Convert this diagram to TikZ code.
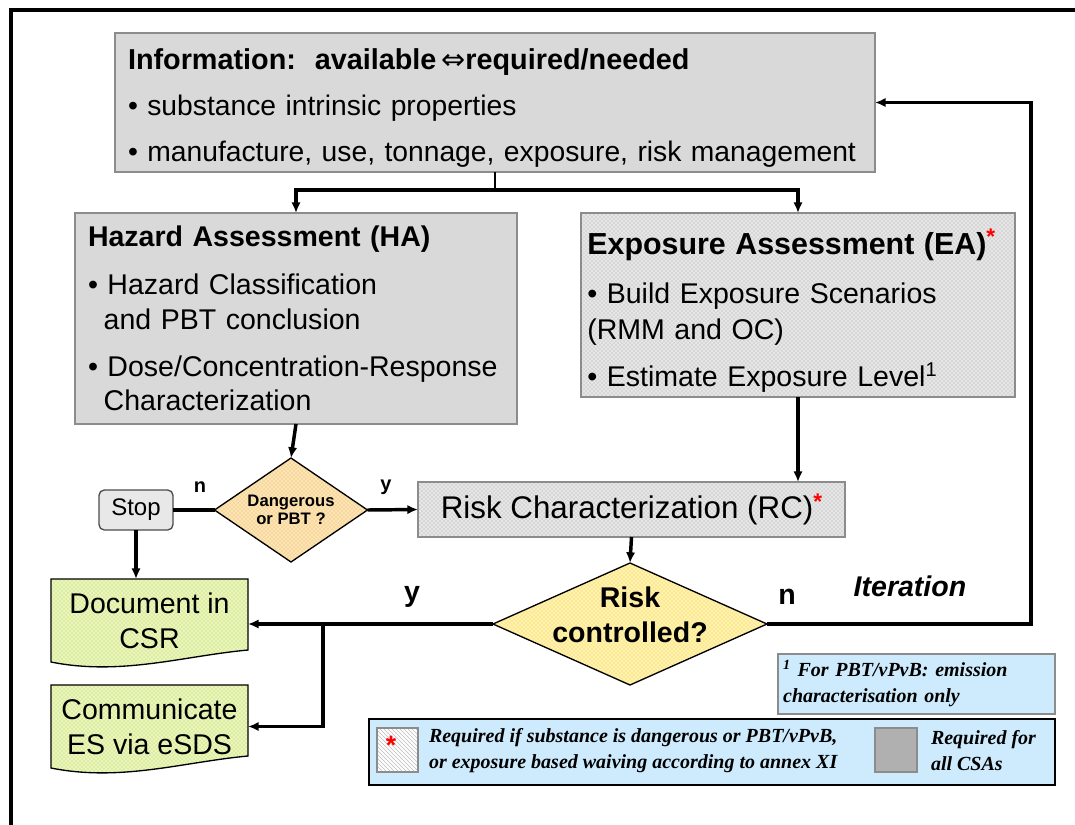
\documentclass[tikz,border=0pt]{standalone}
\usepackage{fontspec}
\setmainfont{Liberation Sans}
\newfontfamily\tms{Liberation Serif}
\newfontfamily\djv{DejaVu Sans}
\usetikzlibrary{shapes.geometric,arrows.meta,patterns,backgrounds}
\definecolor{boxgray}{HTML}{D9D9D9}
\definecolor{edgegray}{HTML}{8C8C8C}
\definecolor{dotbase}{HTML}{E6E6E6}
\definecolor{dotgray}{HTML}{A8A8A8}
\definecolor{orbase}{HTML}{FCE4B4}
\definecolor{ordot}{HTML}{E9B45C}
\definecolor{yelbase}{HTML}{FFF2B0}
\definecolor{yeldot}{HTML}{F2CC3A}
\definecolor{grbase}{HTML}{EAF6BE}
\definecolor{grdot}{HTML}{A6D23E}
\definecolor{lblue}{HTML}{CDEBFC}
\definecolor{stopgray}{HTML}{E8E8E8}
\definecolor{leggray}{HTML}{B0B0B0}
\definecolor{hatchc}{HTML}{BEBEBE}
\newcommand\redstar{\textcolor{red}{\raisebox{0.3em}{\bfseries\fontsize{17}{17}\selectfont *}}}
\newcommand\mydoc[1]{%
  \path[docshape] (#1.north west) -- (#1.north east) -- ([shift={(0,-12)}]#1.south east)
   .. controls ([shift={(-65,-6)}]#1.south east) and ([shift={(70,14)}]#1.south west) .. (#1.south west) -- cycle;}
\begin{document}
\begin{tikzpicture}[x=0.75pt,y=-0.75pt,
  every node/.style={inner sep=0pt, outer sep=0pt},
  bigtxt/.style={font=\fontsize{21.4}{26}\selectfont},
  graybox/.style={rectangle, draw=edgegray, line width=1.3pt, fill=boxgray, align=left, inner xsep=9.75pt, bigtxt},
  dotbox/.style={rectangle, draw=edgegray, line width=1.3pt, preaction={fill=dotbase}, pattern=crosshatch dots, pattern color=dotgray, bigtxt},
  docnode/.style={rectangle, minimum width=147.75pt, minimum height=62.25pt, align=center, bigtxt},
  docshape/.style={draw=black, line width=1pt, preaction={fill=grbase}, pattern=crosshatch dots, pattern color=grdot},
  ln/.style={line width=2.6pt},
  arr/.style={line width=2.6pt, -{Latex[length=8pt,width=7pt]}},
  smalllbl/.style={font=\fontsize{15}{15}\selectfont\bfseries},
  legtxt/.style={font=\tms\bfseries\itshape\fontsize{15}{19.5}\selectfont, align=left},
  bluebox/.style={rectangle, fill=lblue}
]
\useasboundingbox (0,0) rectangle (1075,825);
\draw[line width=2.4pt] (11,10) rectangle (1120,870);

% main boxes
\node[graybox, minimum width=570pt, minimum height=104.25pt, text width=550.5pt, font=\fontsize{21.2}{26}\selectfont] (info) at (495,102.5)
 {{\bfseries\fontsize{21.6}{26}\selectfont\rule{0pt}{24pt}Information:\ \ available\,{\djv\mdseries ⇔}required/needed}\\[8.5pt]
  \textbullet\ substance intrinsic properties\\[8.5pt]
  \makebox[\linewidth][l]{\textbullet\ manufacture, use, tonnage, exposure, risk management}};

\node[graybox, minimum width=331.5pt, minimum height=158.25pt, text width=312pt] (ha) at (296,318.5)
 {{\bfseries Hazard Assessment (HA)}\\[10pt]
  \textbullet\ Hazard Classification\\
  \hspace*{0.55em}and PBT conclusion\\[9pt]
  \textbullet\ Dose/Concentration-Response\\
  \hspace*{0.55em}Characterization};

\node[dotbox, minimum width=325.5pt, minimum height=138pt, text width=316pt, align=left, inner xsep=4.75pt] (ea) at (798,305)
 {{\bfseries\fontsize{22.8}{26}\selectfont\rule{0pt}{27pt}Exposure Assessment (EA)\redstar}\\[11pt]
  \textbullet\ Build Exposure Scenarios\\[1pt]
  (RMM and OC)\\[9pt]
  \textbullet\ Estimate Exposure Level\textsuperscript{1}};

\node[dotbox, minimum width=320.25pt, minimum height=41.25pt, align=center, font=\fontsize{23.5}{26}\selectfont] (rc) at (631.5,509.5)
 {Risk Characterization (RC)\redstar};

% decisions
\node[diamond, aspect=1.5, draw=black, line width=1pt, preaction={fill=orbase}, pattern=crosshatch dots, pattern color=ordot,
      minimum width=114.75pt, minimum height=78pt, align=center, font=\fontsize{12.5}{14}\selectfont\bfseries] (d1) at (291,510)
 {Dangerous\\or PBT ?};
\node[diamond, draw=black, line width=1pt, preaction={fill=yelbase}, pattern=crosshatch dots, pattern color=yeldot,
      minimum width=205.5pt, minimum height=91.5pt] (d2) at (630,624) {};
\node[align=center, font=\fontsize{21.4}{26}\selectfont\bfseries] (d2t) at ([shift={(0,-9)}]d2.center) {Risk\\controlled?};

\node[rectangle, rounded corners=4pt, draw=black!70, line width=1pt, fill=stopgray, minimum width=55.5pt, minimum height=30pt,
      font=\fontsize{18}{20}\selectfont] (stop) at (136,510) {Stop};

% document shapes
\node[docnode] (doc) at (149.5,620.5) {Document in\\CSR};
\node[docnode] (comm) at (149.5,726.5) {Communicate\\ES via eSDS};
\begin{scope}[on background layer]
  \mydoc{doc}
  \mydoc{comm}
\end{scope}

% connectors
\coordinate (sp) at (495,190);
\draw[line width=1.8pt] (info.south) -- (sp);
\draw[arr] (sp) -| (ha.north);
\draw[arr] (sp) -| (ea.north);
\draw[arr] (ha.south) -- (d1.north);
\draw[ln] (d1.west) -- (stop.east);
\draw[arr] (d1.east) -- (rc.west);
\draw[arr] (ea.south) -- (ea.south |- rc.north);
\draw[arr] (rc.south) -- (d2.north);
\draw[arr] (stop.south) -- (stop.south |- doc.north);
\draw[arr] (d2.west) -- (doc.east |- d2.west);
\coordinate (br) at (323,624);
\draw[arr] (br) |- (comm.east);
\coordinate (fb) at (1031,624);
\draw[arr] (d2.east) -- (fb) |- (info.east);

% labels
\node[smalllbl] (n1) at (200,487) {n};
\node[smalllbl] (y1) at (386,487) {y};
\node[font=\fontsize{21.4}{26}\selectfont\bfseries] (y2) at (412,597) {y};
\node[font=\fontsize{21.4}{26}\selectfont\bfseries] (n2) at (787,597) {n};
\node[font=\fontsize{21.4}{26}\selectfont\bfseries\itshape] (iter) at (910,586) {Iteration};

% footnote
\node[bluebox, draw=edgegray, line width=1.3pt, minimum width=207.75pt, minimum height=45pt, text width=200pt, inner xsep=3.9pt, legtxt] (foot) at (916.5,684)
 {\textsuperscript{1} For PBT/vPvB: emission\\characterisation only};

% legend
\node[bluebox, draw=black, line width=2pt, minimum width=514.5pt, minimum height=49.5pt] (leg) at (712,752) {};
\node[rectangle, draw=edgegray, line width=1pt, preaction={fill=white}, pattern=north west lines, pattern color=hatchc,
      minimum width=30.75pt, minimum height=33pt] (hsq) at (397.5,750) {};
\node[text=red, font=\bfseries\fontsize{20}{20}\selectfont] (hstar) at (391,745) {*};
\node[anchor=west, legtxt] (lt1) at (429,751) {Required if substance is dangerous or PBT/vPvB,\\or exposure based waiving according to annex XI};
\node[rectangle, draw=edgegray, line width=1pt, fill=leggray, minimum width=31.5pt, minimum height=33pt] (gsq) at (896,750) {};
\node[anchor=west, legtxt] (lt2) at (931,751) {Required for\\all CSAs};
\end{tikzpicture}
\end{document}
